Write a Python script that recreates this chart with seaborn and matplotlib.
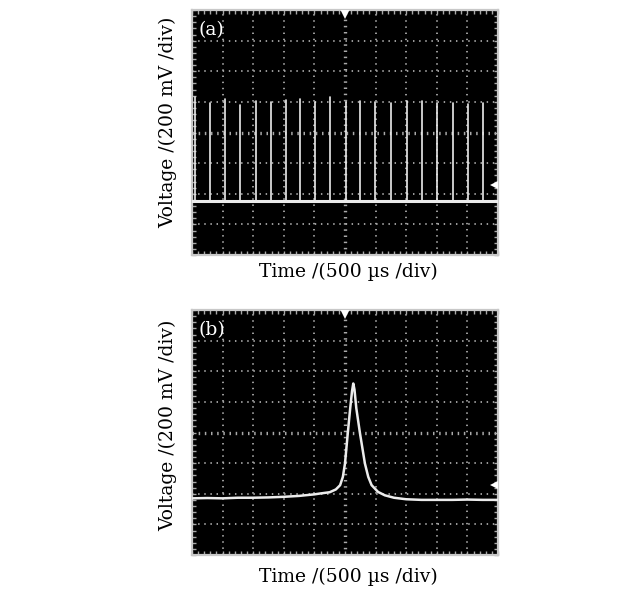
import numpy as np
import pandas as pd
import matplotlib
matplotlib.use("Agg")
import matplotlib.pyplot as plt
import seaborn as sns

# ---------------- data (in screen divisions) ----------------
# Panel (a): pulse train
pulse_times = [0.11, 0.60, 1.09, 1.58, 2.10, 2.58, 3.08, 3.54, 4.03, 4.52,
               5.03, 5.50, 5.99, 6.50, 7.03, 7.52, 8.01, 8.53, 9.01, 9.50]
pulse_peaks = [5.17, 4.97, 5.10, 4.91, 5.03, 4.99, 5.07, 5.11, 4.99, 5.15,
               4.99, 5.03, 4.99, 4.97, 5.03, 5.03, 4.95, 4.95, 4.93, 4.95]
baseline_a = 1.76

# Panel (b): single pulse trace
trace_b_t = [0.0, 0.5, 1.0, 1.5, 2.0, 2.5, 3.0, 3.5, 4.0, 4.2, 4.5, 4.7,
             4.84, 4.93, 5.00, 5.09, 5.17, 5.23, 5.27, 5.31, 5.37, 5.49,
             5.65, 5.76, 5.87, 6.08, 6.3, 6.6, 7.0, 7.5, 8.0, 8.5, 9.0,
             9.5, 10.0]
trace_b_v = [1.85, 1.86, 1.85, 1.87, 1.87, 1.88, 1.90, 1.93, 1.98, 2.01,
             2.05, 2.14, 2.28, 2.55, 2.99, 3.97, 4.79, 5.35, 5.60, 5.40,
             4.79, 3.97, 2.99, 2.55, 2.28, 2.06, 1.95, 1.87, 1.82, 1.80,
             1.80, 1.80, 1.81, 1.80, 1.80]

marker_level = 2.28
xlabel = "Time /(500 \u00b5s /div)"
ylabel = "Voltage /(200 mV /div)"
panel_tags = ["(a)", "(b)"]

# ---------------- style ----------------
sns.set_style("white")
plt.rcParams["font.family"] = ["DejaVu Serif"]
plt.rcParams["text.color"] = "black"

W, H = 628, 592
fig = plt.figure(figsize=(W / 100, H / 100), dpi=100)

trace_col = "#ececec"
grid_col = "#a8a8a8"
frame_col = "#c8c8c8"


def scope_axes(rect):
    ax = fig.add_axes(rect)
    ax.set_facecolor("black")
    ax.set_xlim(0, 10)
    ax.set_ylim(0, 8)
    for s in ax.spines.values():
        s.set_color(frame_col)
        s.set_linewidth(1.6)
    ax.set_xticks(np.arange(0, 11, 1))
    ax.set_yticks(np.arange(0, 9, 1))
    ax.set_xticks(np.arange(0, 10.01, 0.2), minor=True)
    ax.set_yticks(np.arange(0, 8.01, 0.2), minor=True)
    ax.tick_params(which="both", direction="in", color=grid_col,
                   top=True, right=True, bottom=True, left=True,
                   labelbottom=False, labelleft=False, length=2.8, width=1.0)
    # dotted graticule
    for gx in range(1, 10):
        if gx == 5:
            continue
        ax.axvline(gx, color=grid_col, lw=1.3, ls=(0, (0.8, 2.6)), zorder=1)
    for gy in range(1, 8):
        if gy == 4:
            continue
        ax.axhline(gy, color=grid_col, lw=1.3, ls=(0, (0.8, 2.6)), zorder=1)
    # centre cross with small dashes
    ax.axvline(5, color=grid_col, lw=2.4, ls=(0, (0.45, 1.4)), zorder=1)
    ax.axhline(4, color=grid_col, lw=2.4, ls=(0, (0.45, 1.4)), zorder=1)
    # trigger / level markers
    ax.plot([5], [7.86], marker="v", color="white", ms=6.5, mew=0, zorder=5)
    ax.plot([9.86], [marker_level], marker="<", color="white", ms=6, mew=0,
            zorder=5)
    ax.plot([9.86, 10.0], [marker_level, marker_level], color="white", lw=1.0,
            zorder=5)
    return ax


ax_a = scope_axes([192 / W, 1 - 255 / H, 306 / W, 245 / H])
ax_b = scope_axes([192 / W, 1 - 555 / H, 306 / W, 245 / H])

# Panel (a)
df_base = pd.DataFrame({"t": [0, 10], "v": [baseline_a, baseline_a]})
sns.lineplot(data=df_base, x="t", y="v", ax=ax_a, color=trace_col, lw=2.2,
             zorder=4)
rows = []
for i, (t, p) in enumerate(zip(pulse_times, pulse_peaks)):
    rows.append({"t": t, "v": baseline_a, "pulse": i})
    rows.append({"t": t, "v": p, "pulse": i})
df_pulses = pd.DataFrame(rows)
sns.lineplot(data=df_pulses, x="t", y="v", units="pulse", estimator=None,
             ax=ax_a, color=trace_col, lw=1.2, zorder=4)

# Panel (b)
df_b = pd.DataFrame({"t": trace_b_t, "v": trace_b_v})
sns.lineplot(data=df_b, x="t", y="v", ax=ax_b, color=trace_col, lw=1.8,
             estimator=None, sort=False, zorder=4)

for ax, tag in zip([ax_a, ax_b], panel_tags):
    ax.set_xlim(0, 10)
    ax.set_ylim(0, 8)
    ax.set_xlabel("")
    ax.set_ylabel("")
    ax.text(0.2, 7.35, tag, color="white", fontsize=13.5, va="center",
            ha="left", zorder=6)

# axis titles
fs = 13.5
fig.text(348 / W, 1 - 272 / H, xlabel, ha="center", va="center", fontsize=fs,
         color="black")
fig.text(348 / W, 1 - 577 / H, xlabel, ha="center", va="center", fontsize=fs,
         color="black")
fig.text(168 / W, 1 - 122 / H, ylabel, ha="center", va="center",
         rotation=90, fontsize=fs, color="black")
fig.text(168 / W, 1 - 425 / H, ylabel, ha="center", va="center",
         rotation=90, fontsize=fs, color="black")

fig.savefig("out.png", dpi=100, facecolor="white")
